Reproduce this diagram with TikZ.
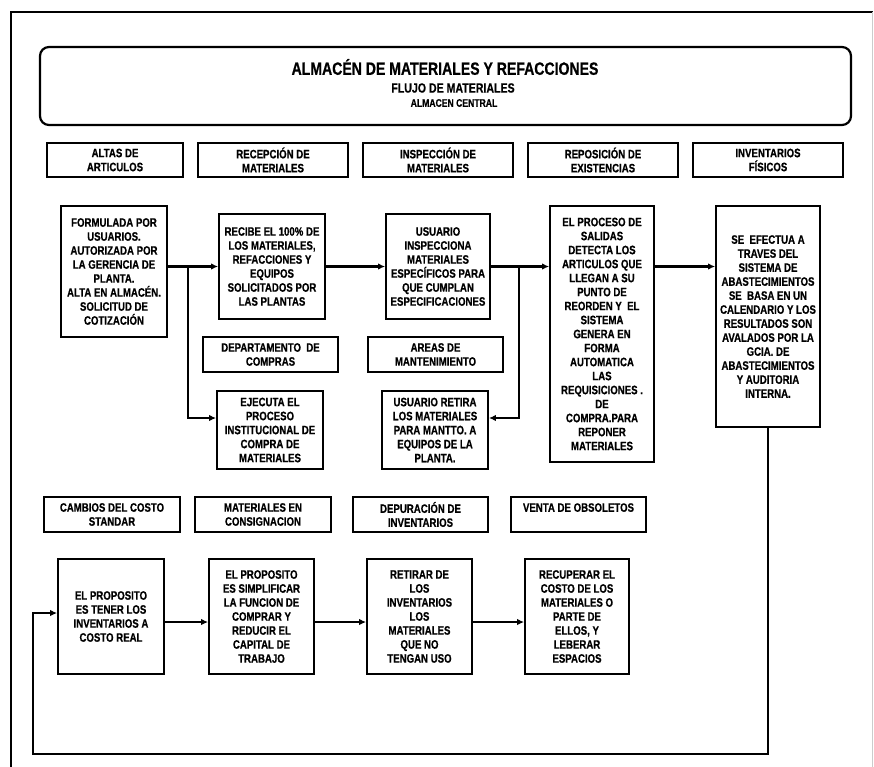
\documentclass[tikz,border=0pt]{standalone}
\usepackage{fontspec}
\newfontfamily\cond{Liberation Sans}[FakeStretch=0.79,BoldFeatures={FakeBold=0.6}]
\usetikzlibrary{arrows.meta,calc}
\begin{document}
\begin{tikzpicture}[x=1pt,y=-1pt,
  box/.style={draw,line width=1.8pt,inner sep=0pt,align=center,
    font={\cond\bfseries\fontsize{12.2}{14}\selectfont}},
  hdr/.style={box,minimum height=35pt},
  arr/.style={line width=2.2pt,-{Latex[length=7pt,width=6.5pt]}},
  frame/.style={line width=2.2pt}]
\useasboundingbox (0,0) rectangle (874,767);
% outer frame
\draw[frame] (11,780) -- (11,12) -- (873,12);
\draw[gray!40,line width=0.8pt] (872.5,12) -- (872.5,767);
% title
\node[draw,line width=2.2pt,rounded corners=9pt,minimum width=811pt,minimum height=78pt] (title) at (445.5,86) {};
\node[font={\cond\bfseries\fontsize{17.8}{20}\selectfont}] (t1) at (445,67) {ALMACÉN DE MATERIALES Y REFACCIONES};
\node[font={\cond\bfseries\fontsize{13.4}{15}\selectfont}] (t2) at (453,88) {FLUJO DE MATERIALES};
\node[font={\cond\bfseries\fontsize{10.9}{12}\selectfont}] (t3) at (454,103) {ALMACEN CENTRAL};
% headers row 1
\node[hdr,minimum width=136pt,minimum height=34pt] (h1) at (115,160) {ALTAS DE\\ARTICULOS};
\node[hdr,minimum width=150pt,minimum height=34pt] (h2) at (273,160) {RECEPCIÓN DE\\MATERIALES};
\node[hdr,minimum width=150pt,minimum height=34pt] (h3) at (438,160) {INSPECCIÓN DE\\MATERIALES};
\node[hdr,minimum width=150pt,minimum height=34pt] (h4) at (603,160) {REPOSICIÓN DE\\EXISTENCIAS};
\node[hdr,minimum width=150pt,minimum height=34pt] (h5) at (768,160) {INVENTARIOS\\FÍSICOS};
% row 1 boxes
\node[box,minimum width=106pt,minimum height=131pt] (form) at (114,271.5) {FORMULADA POR\\USUARIOS.\\AUTORIZADA POR\\LA GERENCIA DE\\PLANTA.\\ALTA EN ALMACÉN.\\SOLICITUD DE\\COTIZACIÓN};
\node[box,minimum width=106pt,minimum height=105pt] (recibe) at (272,266.5) {RECIBE EL 100\% DE\\LOS MATERIALES,\\REFACCIONES Y\\EQUIPOS\\SOLICITADOS POR\\LAS PLANTAS};
\node[box,minimum width=104pt,minimum height=105pt] (usuario) at (438,266.5) {USUARIO\\INSPECCIONA\\MATERIALES\\ESPECÍFICOS PARA\\QUE CUMPLAN\\ESPECIFICACIONES};
\node[box,minimum width=104pt,minimum height=256pt] (proceso) at (602,334) {EL PROCESO DE\\SALIDAS\\DETECTA LOS\\ARTICULOS QUE\\LLEGAN A SU\\PUNTO DE\\REORDEN Y\ \ EL\\SISTEMA\\GENERA EN\\FORMA\\AUTOMATICA\\LAS\\REQUISICIONES .\\DE\\COMPRA.PARA\\REPONER\\MATERIALES};
\node[box,minimum width=104pt,minimum height=221pt] (sefect) at (768,316.5) {SE\ \ EFECTUA A\\TRAVES DEL\\SISTEMA DE\\ABASTECIMIENTOS\\SE\ \ BASA EN UN\\CALENDARIO Y LOS\\RESULTADOS SON\\AVALADOS POR LA\\GCIA. DE\\ABASTECIMIENTOS\\Y AUDITORIA\\INTERNA.};
% row 2
\node[hdr,minimum width=135pt] (h6) at (270.5,354.5) {DEPARTAMENTO\ \ DE\\COMPRAS};
\node[hdr,minimum width=135pt] (h7) at (435.5,354.5) {AREAS DE\\MANTENIMIENTO};
\node[box,minimum width=106pt,minimum height=78pt] (ejec) at (270,430) {EJECUTA EL\\PROCESO\\INSTITUCIONAL DE\\COMPRA DE\\MATERIALES};
\node[box,minimum width=106pt,minimum height=78pt] (retira) at (435,430) {USUARIO RETIRA\\LOS MATERIALES\\PARA MANTTO. A\\EQUIPOS DE LA\\PLANTA.};
% row 3 headers
\node[hdr,minimum width=136pt] (h8) at (112,514.5) {CAMBIOS DEL COSTO\\STANDAR};
\node[hdr,minimum width=136pt] (h9) at (263,514.5) {MATERIALES EN\\CONSIGNACION};
\node[hdr,minimum width=135pt] (h10) at (420.5,514.5) {DEPURACIÓN DE\\INVENTARIOS};
\node[hdr,minimum width=135pt] (h11) at (578.5,514.5) {VENTA DE OBSOLETOS\\\mbox{}};
% row 3 boxes
\node[box,minimum width=106pt,minimum height=115pt] (prop1) at (111,616.5) {EL PROPOSITO\\ES TENER LOS\\INVENTARIOS A\\COSTO REAL};
\node[box,minimum width=105pt,minimum height=115pt] (prop2) at (261.5,616.5) {EL PROPOSITO\\ES SIMPLIFICAR\\LA FUNCION DE\\COMPRAR Y\\REDUCIR EL\\CAPITAL DE\\TRABAJO};
\node[box,minimum width=105pt,minimum height=115pt] (retirar) at (419.5,616.5) {RETIRAR DE\\LOS\\INVENTARIOS\\LOS\\MATERIALES\\QUE NO\\TENGAN USO};
\node[box,minimum width=104pt,minimum height=115pt] (recup) at (577,616.5) {RECUPERAR EL\\COSTO DE LOS\\MATERIALES O\\PARTE DE\\ELLOS, Y\\LEBERAR\\ESPACIOS};
% connectors row 1
\draw[arr] (form.east |- recibe.west) -- (recibe.west) coordinate[pos=0.4] (j1);
\draw[arr] (j1) |- ([yshift=12pt]ejec.west);
\draw[arr] (recibe.east) -- (usuario.west);
\draw[arr] (usuario.east) -- (usuario.east -| proceso.west) coordinate[pos=0.48] (j2);
\draw[arr] (j2) |- ([yshift=12pt]retira.east);
\draw[arr] (proceso.east |- usuario.east) -- (sefect.west |- usuario.east);
% connectors row 3
\draw[arr] ([yshift=-5.5pt]prop1.east) -- ([yshift=-5.5pt]prop2.west);
\draw[arr] ([yshift=-5.5pt]prop2.east) -- ([yshift=-5.5pt]retirar.west);
\draw[arr] ([yshift=-5.5pt]retirar.east) -- ([yshift=-5.5pt]recup.west);
% feedback loop
\coordinate (lb) at (33,754);
\draw[arr] (sefect.south) |- (lb) |- ([yshift=3.5pt]prop1.west);
\end{tikzpicture}
\end{document}
